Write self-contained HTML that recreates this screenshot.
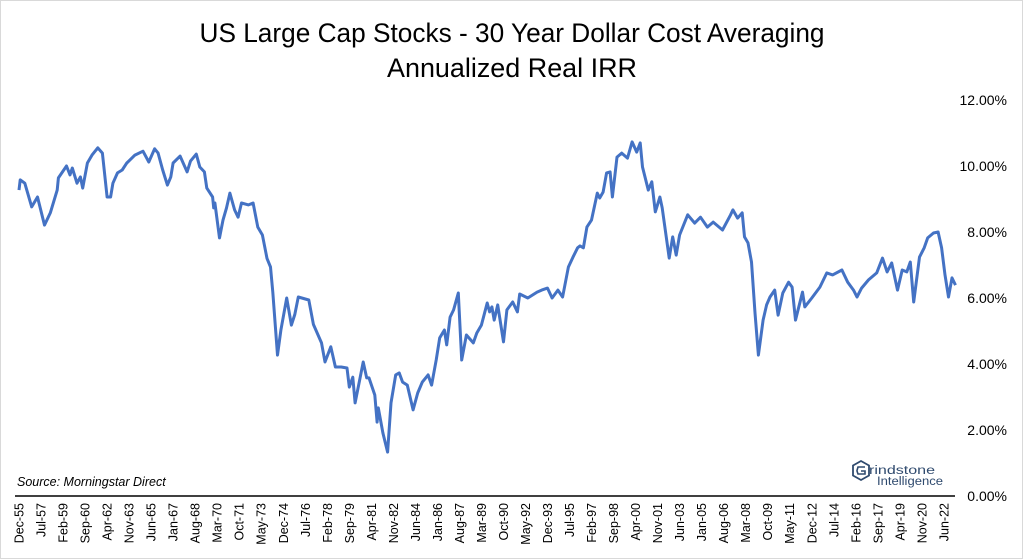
<!DOCTYPE html>
<html><head><meta charset="utf-8"><style>
html,body{margin:0;padding:0;background:#fff}
svg{display:block;font-family:"Liberation Sans",Arial,sans-serif}
</style></head><body>
<svg id="chart" width="1023" height="559" viewBox="0 0 1023 559" xmlns="http://www.w3.org/2000/svg">
<rect x="0.5" y="0.5" width="1022" height="558" fill="#fff" stroke="#d9d9d9"/>
<text x="512" y="42" text-anchor="middle" font-size="27" textLength="625" lengthAdjust="spacingAndGlyphs" fill="#000">US Large Cap Stocks - 30 Year Dollar Cost Averaging</text>
<text x="512" y="77" text-anchor="middle" font-size="27" textLength="250" lengthAdjust="spacingAndGlyphs" fill="#000">Annualized Real IRR</text>
<g id="yaxis"></g>
<g id="xaxis"></g>
<line x1="15" y1="496" x2="955" y2="496" stroke="#000" stroke-width="1.5"/>
<path id="series" fill="none" stroke="#4472C4" stroke-width="3" stroke-linejoin="round"/>
<text x="17" y="486" font-size="12.5" font-style="italic" fill="#000">Source: Morningstar Direct</text>
<g>
<polygon points="861,461 869,465.5 869,475.5 861,480 853,475.5 853,465.5" fill="none" stroke="#2f4a6e" stroke-width="1.8"/>
<path d="M865,467 L858,467 L857,470.5 L857,471 L858,474 L865,474 L865,471 L861,471" fill="none" stroke="#2f4a6e" stroke-width="1.6"/>
<text x="869" y="474" font-size="11.5" fill="#2f4a6e" textLength="66" lengthAdjust="spacingAndGlyphs">rindstone</text>
<text x="877" y="485" font-size="11.5" fill="#2f4a6e" textLength="66" lengthAdjust="spacingAndGlyphs">Intelligence</text>
</g>
</svg>
<script>
const months=[0,1,5,11,16,22,27,33,34,41,44,46,50,53,55,59,63,68,72,76,79,81,85,89,93,100,107,112,117,120,124,128,131,133,139,145,148,153,156,160,162,167,168,169,173,176,179,182,186,189,192,198,202,206,210,214,217,219,223,226,231,235,238,241,250,254,261,264,269,273,278,283,285,288,290,294,297,300,302,307,309,310,314,318,321,325,328,331,335,340,344,348,353,356,360,363,367,369,372,375,379,382,386,392,395,399,404,406,408,410,413,418,421,426,430,432,439,447,451,456,460,465,469,474,478,482,484,487,490,494,499,501,504,507,510,512,516,520,525,529,533,536,538,543,546,549,553,555,561,564,567,570,577,583,588,594,599,607,614,616,620,624,626,629,632,635,638,642,645,648,652,655,659,664,667,670,676,678,684,691,697,702,710,715,720,723,727,733,740,745,749,753,758,762,766,769,772,777,781,784,789,793,796,799,802,805,808];
const irr=[9.27,9.58,9.48,8.76,9.06,8.21,8.58,9.27,9.64,10.0,9.73,9.94,9.48,9.67,9.33,10.09,10.33,10.55,10.39,9.06,9.06,9.48,9.79,9.88,10.09,10.33,10.45,10.12,10.52,10.39,9.88,9.42,9.67,10.09,10.3,9.82,10.15,10.36,9.97,9.82,9.33,9.06,8.73,8.88,7.82,8.36,8.73,9.18,8.67,8.45,8.88,8.82,8.88,8.15,7.91,7.2,6.94,6.18,4.27,5.03,6.0,5.18,5.5,6.03,5.94,5.2,4.64,4.06,4.52,3.91,3.91,3.88,3.3,3.6,2.82,3.52,4.06,3.58,3.58,3.06,2.24,2.67,1.91,1.33,2.82,3.67,3.73,3.45,3.36,2.61,3.12,3.45,3.67,3.36,4.12,4.79,5.03,4.58,5.42,5.64,6.15,4.12,4.88,4.64,4.94,5.18,5.85,5.58,5.73,5.33,5.79,4.67,5.64,5.88,5.58,6.12,6.0,6.18,6.24,6.3,6.0,6.24,6.03,6.94,7.24,7.52,7.58,7.52,8.15,8.36,9.18,9.03,9.21,9.79,9.82,9.06,10.27,10.39,10.24,10.73,10.42,10.7,9.97,9.27,9.52,8.61,9.06,8.73,7.21,7.85,7.3,7.91,8.52,8.27,8.45,8.15,8.3,8.06,8.52,8.67,8.42,8.58,7.85,7.67,7.09,5.55,4.27,5.33,5.79,6.03,6.24,5.48,6.15,6.48,6.33,5.33,6.18,5.73,6.0,6.33,6.76,6.7,6.85,6.48,6.24,6.03,6.3,6.55,6.76,7.21,6.79,7.06,6.24,6.85,6.79,7.09,5.88,7.24,7.52,7.82,7.97,8.0,7.52,6.7,6.03,6.61,6.39];
const yTicks=[0,2,4,6,8,10,12];
const xTickLabels=["Dec-55","Jul-57","Feb-59","Sep-60","Apr-62","Nov-63","Jun-65","Jan-67","Aug-68","Mar-70","Oct-71","May-73","Dec-74","Jul-76","Feb-78","Sep-79","Apr-81","Nov-82","Jun-84","Jan-86","Aug-87","Mar-89","Oct-90","May-92","Dec-93","Jul-95","Feb-97","Sep-98","Apr-00","Nov-01","Jun-03","Jan-05","Aug-06","Mar-08","Oct-09","May-11","Dec-12","Jul-14","Feb-16","Sep-17","Apr-19","Nov-20","Jun-22"];
const tickStepMonths=19;
const NS="http://www.w3.org/2000/svg";
function xScale(m){return 19+m*1.159;}
function yScale(v){return 496-v*33;}
const ya=document.getElementById('yaxis');
yTicks.forEach(v=>{
  const t=document.createElementNS(NS,'text');
  
  
  t.setAttribute('x',1007);t.setAttribute('y',yScale(v)+5);
  t.setAttribute('text-anchor','end');t.setAttribute('font-size','14');
  t.textContent=v.toFixed(2)+'%';ya.appendChild(t);
});
const xa=document.getElementById('xaxis');
xTickLabels.forEach((lab,i)=>{
  const x=xScale(i*tickStepMonths)+4.5;
  const t=document.createElementNS(NS,'text');
  
  
  t.setAttribute('transform','translate('+x+',503) rotate(-90)');
  t.setAttribute('text-anchor','end');t.setAttribute('font-size','12.5');
  t.textContent=lab;xa.appendChild(t);
});
let d='';
months.forEach((m,i)=>{d+=(i?'L':'M')+xScale(m).toFixed(1)+','+yScale(irr[i]).toFixed(1);});
document.getElementById('series').setAttribute('d',d);
</script>
</body></html>
